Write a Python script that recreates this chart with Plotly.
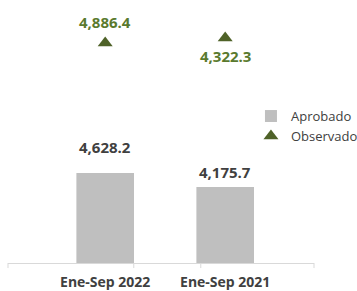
import plotly.graph_objects as go

categories = ["Ene-Sep 2022", "Ene-Sep 2021"]
aprobado = [4628.2, 4175.7]
observado = [4886.4, 4322.3]
aprobado_labels = ["4,628.2", "4,175.7"]
observado_labels = ["4,886.4", "4,322.3"]

GRAY_TEXT = "#404040"
GREEN = "#4F6228"
GREEN_TEXT = "#5A7A2E"
BAR = "#BFBFBF"
AXIS = "#D9D9D9"
FONT = "Open Sans"

fig = go.Figure()
fig.add_trace(go.Bar(
    x=categories, y=aprobado, name="Aprobado",
    marker=dict(color=BAR, line=dict(width=0)),
    width=0.48, yaxis="y",
))
fig.add_trace(go.Scatter(
    x=categories, y=observado, name="Observado", mode="markers",
    marker=dict(symbol="triangle-up", size=13, color=GREEN),
    yaxis="y2",
))

# value labels
for c, v, t, ys in zip(categories, aprobado, aprobado_labels, [14, 3]):
    fig.add_annotation(x=c, y=v, yref="y", text=f"<b>{t}</b>", showarrow=False,
                       yanchor="bottom", yshift=ys,
                       font=dict(family=FONT, size=15, color=GRAY_TEXT))
for c, v, t, pos in zip(categories, observado, observado_labels, ["top", "bottom"]):
    fig.add_annotation(x=c, y=v, yref="y2", text=f"<b>{t}</b>", showarrow=False,
                       yanchor="bottom" if pos == "top" else "top",
                       yshift=9 if pos == "top" else -6,
                       font=dict(family=FONT, size=15, color=GREEN_TEXT))

# small tick marks under the axis line
for xp in [0.0, 0.411, 0.63, 1.0]:
    fig.add_shape(type="line", xref="paper", yref="paper", x0=xp, x1=xp,
                  y0=0, y1=-0.02, line=dict(color=AXIS, width=1))

fig.update_layout(
    width=357, height=291,
    margin=dict(l=8, r=43, t=10, b=28, autoexpand=False),
    paper_bgcolor="white", plot_bgcolor="white",
    showlegend=True,
    legend=dict(x=0.794, y=0.64, xref="paper", yref="paper",
                xanchor="left", yanchor="top",
                font=dict(family=FONT, size=13, color=GRAY_TEXT),
                itemwidth=30, tracegroupgap=0, bgcolor="rgba(0,0,0,0)"),
    xaxis=dict(type="category", range=[-0.81, 1.74], showgrid=False,
               showline=True, linecolor=AXIS, linewidth=1, ticks="",
               tickfont=dict(family=FONT, size=14, color=GRAY_TEXT),
               tickprefix="<b>", ticksuffix="</b>", automargin=False,
               ticklabelstandoff=6),
    yaxis=dict(range=[1719, 9896], visible=False, showgrid=False, automargin=False),
    yaxis2=dict(range=[29705, 1163], overlaying="y", visible=False,
                showgrid=False, automargin=False),
)

fig.write_html("out.html", config={"displayModeBar": False},
               post_script="document.body.style.margin='0';")
